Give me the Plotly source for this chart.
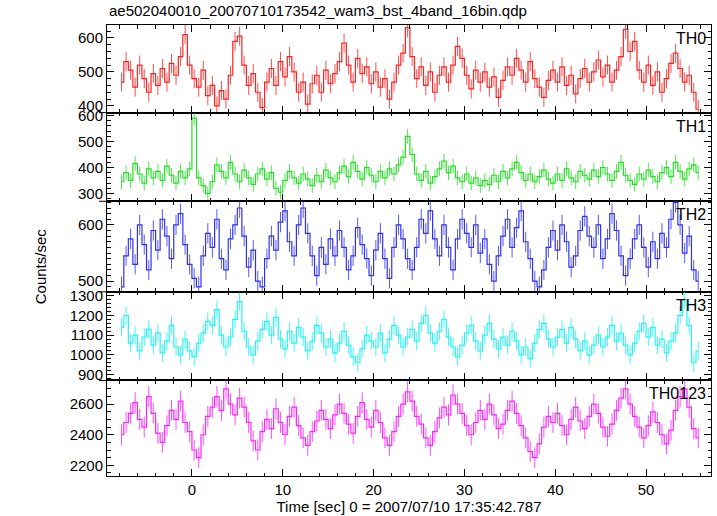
import numpy as np
import plotly.graph_objects as go
from plotly.subplots import make_subplots

TITLE = "ae502040010_20070710173542_wam3_bst_4band_16bin.qdp"
X_TITLE = "Time [sec] 0 = 2007/07/10 17:35:42.787"
Y_TITLE = "Counts/sec"
BANDS = ["TH0", "TH1", "TH2", "TH3", "TH0123"]
T_START = -7.75    # centre of first bin [s]
BIN = 0.5          # bin width [s]

TH0_RATE = [
    470, 530, 505, 455, 520, 480, 440, 495, 460, 510, 470, 525, 490, 545, 610, 520,
    480, 455, 505, 430, 460, 400, 445, 420, 490, 590, 605, 520, 460, 495, 440, 395,
    470, 510, 460, 530, 485, 545, 500, 440, 470, 405, 465, 490, 440, 505, 465, 495,
    530, 585, 520, 470, 540, 495, 515, 465, 500, 455, 480, 420, 470, 520, 555, 630,
    545, 480, 515, 460, 500, 440, 490, 515, 470, 520, 575, 540, 490, 450, 505, 470,
    500, 455, 485, 425, 475, 515, 490, 540, 505, 470, 530, 480, 455, 425, 475, 505,
    470, 515, 460, 490, 435, 480, 510, 470, 500, 535, 485, 520, 470, 505, 545, 625,
    560, 590, 505, 470, 520, 460, 500, 440, 480, 525, 555, 510, 470, 490, 440, 390,
]

TH1_RATE = [
    345, 380, 350, 415, 375, 340, 395, 360, 385, 350, 405, 370, 340, 385, 360, 395,
    590, 360, 330, 300, 345, 410, 385, 360, 420, 375, 345, 390, 360, 335, 375, 395,
    355, 380, 320, 305, 350, 385, 360, 340, 375, 355, 330, 370, 345, 390, 360, 345,
    380, 405, 365, 420, 385, 355, 400, 370, 345, 385, 360, 395, 375, 410, 440, 520,
    450, 375, 350, 385, 340, 365, 395, 425, 380, 405, 360, 345, 375, 340, 360, 330,
    350, 335, 370, 345, 385, 360, 395, 420, 380, 350, 375, 345, 365, 390, 355, 340,
    375, 350, 395, 360, 345, 385, 370, 355, 390, 365, 400, 375, 350, 385, 420, 370,
    350, 335, 375, 355, 390, 365, 345, 380, 400, 365, 420, 385, 355, 395, 410, 380,
]

TH2_RATE = [
    490, 545, 575, 530, 600, 565, 520, 590, 555, 610, 580, 540, 600, 620, 565, 530,
    505, 490, 545, 585, 560, 610, 540, 520, 575, 600, 630, 580, 525, 555, 500, 490,
    540, 580, 555, 605, 625, 570, 545, 600, 630, 585, 545, 510, 560, 530, 575, 545,
    590, 560, 520, 545, 595, 565, 540, 510, 555, 585, 540, 505, 560, 600, 575, 540,
    520, 560, 610, 585, 625, 575, 545, 600, 560, 520, 575, 610, 585, 560, 600, 550,
    575, 530, 500, 545, 580, 610, 560, 595, 625, 570, 540, 500, 490, 520, 560, 590,
    555, 600, 570, 525, 545, 590, 615, 580, 560, 600, 540, 575, 620, 590, 545, 510,
    540, 575, 600, 560, 525, 570, 540, 585, 560, 610, 640, 600, 550, 580, 520, 500,
]

TH3_RATE = [
    1140, 1200, 1060, 1100, 1020, 1090, 1130, 1050, 1110, 1010, 1070, 1150, 1040, 1000, 1080, 1020,
    990, 1060, 1110, 1170, 1150, 1230, 1100, 1040, 1090, 1180, 1270, 1120, 1040, 1000, 1070, 1130,
    1170, 1100, 1190, 1080, 1030, 1120, 1060, 1140, 1090, 1020, 1070, 1150, 1110, 1040, 1080, 1010,
    1060, 1120, 1050, 990, 960, 1030, 1100, 1070, 1040, 1110, 1010, 1080, 1150, 1100, 1040, 1090,
    1130, 1070, 1160, 1200, 1110, 1060, 1120, 1180, 1090, 1040, 990, 1050, 1110, 1150, 1070, 1020,
    1100, 1160, 1080, 1030, 1090, 1050, 1120, 1070, 1000, 1040, 980, 1060, 1130, 1160, 1080, 1040,
    1090, 1130, 1060, 1140, 1080, 1020, 1070, 1000, 1050, 1100, 1040, 1090, 1150, 1070, 1110, 1050,
    1000, 1060, 1120, 1160, 1090, 1140, 1050, 1080, 1010, 1070, 1110, 1200, 1280, 1150, 960, 1020,
]

TH0123_RATE = [
    2400, 2480, 2540, 2610, 2500, 2450, 2650, 2540, 2410, 2350, 2460, 2560, 2500, 2620, 2480, 2420,
    2300, 2250, 2400, 2520, 2580, 2650, 2560, 2700, 2600, 2530, 2640, 2580, 2480, 2360, 2300, 2420,
    2500, 2440, 2570, 2480, 2400, 2520, 2580, 2460, 2380, 2330, 2420, 2490, 2560, 2500, 2440, 2530,
    2600, 2540, 2470, 2410, 2520, 2610, 2500, 2450, 2560, 2480, 2380, 2330, 2420, 2520, 2600, 2680,
    2620, 2520, 2470, 2380, 2330, 2420, 2510, 2580, 2530, 2660, 2600, 2540, 2460, 2400, 2480, 2560,
    2500, 2600, 2530, 2440, 2470, 2560, 2620, 2540, 2460, 2380, 2290, 2250, 2340, 2450, 2520, 2480,
    2540, 2460, 2400, 2500, 2580, 2490, 2440, 2520, 2600, 2540, 2450, 2390, 2470, 2560, 2640, 2700,
    2600, 2520, 2450, 2380, 2460, 2550, 2480, 2400, 2340, 2430, 2560, 2650, 2700, 2580, 2440, 2380,
]

# 1-sigma half-length of error bars per band (counts/sec)
ERR_HALF = [28, 28, 18, 46, 68]

RATES = [TH0_RATE, TH1_RATE, TH2_RATE, TH3_RATE, TH0123_RATE]
COLORS = ["#ff2020", "#22e022", "#3030f0", "#22f4f4", "#ff22ff"]
ERR_COLORS = ["rgba(255,32,32,0.8)", "rgba(34,224,34,0.8)", "rgba(48,48,240,0.8)",
              "rgba(34,244,244,0.85)", "rgba(255,34,255,0.8)"]
Y_RANGES = [[380, 638], [270, 611], [481, 642], [870, 1320], [2130, 2755]]
Y_DTICK = [100, 100, 100, 100, 200]
Y_MINOR = [20, 20, 10, 20, 50]

FONT = "Liberation Sans, Arial, Helvetica, sans-serif"
W, H = 717, 516
TOP, BOTTOM = 25, 483
BOUNDS = [25, 114, 204, 296, 386, 483]

fig = make_subplots(rows=5, cols=1, shared_xaxes=True, vertical_spacing=0)

for i, (rate, col, ecol, err) in enumerate(zip(RATES, COLORS, ERR_COLORS, ERR_HALF)):
    t = T_START + BIN * np.arange(len(rate))
    fig.add_trace(go.Scatter(
        x=t, y=rate, mode="lines", line=dict(color=col, width=1.2, shape="hvh"),
        error_y=dict(type="constant", value=err, color=ecol, thickness=1, width=0),
        showlegend=False, hoverinfo="skip"), row=i + 1, col=1)

ph = BOTTOM - TOP
for i in range(5):
    y0 = (BOTTOM - BOUNDS[i + 1]) / ph
    y1 = (BOTTOM - BOUNDS[i]) / ph
    yname = "yaxis" if i == 0 else f"yaxis{i + 1}"
    xname = "xaxis" if i == 0 else f"xaxis{i + 1}"
    fig.layout[yname].update(
        domain=[y0, y1], range=Y_RANGES[i], dtick=Y_DTICK[i], tick0=0,
        ticks="inside", ticklen=7, tickcolor="black", mirror="ticks",
        showline=True, linecolor="black", linewidth=1, showgrid=False, zeroline=False,
        tickfont=dict(family=FONT, size=15, color="black"),
        minor=dict(ticks="inside", ticklen=3.5, dtick=Y_MINOR[i], tick0=0, tickcolor="black"),
    )
    fig.layout[xname].update(
        range=[-9.35, 57.15], dtick=10, tick0=0,
        ticks="inside", ticklen=7, tickcolor="black", mirror="ticks",
        showline=True, linecolor="black", linewidth=1, showgrid=False, zeroline=False,
        tickfont=dict(family=FONT, size=15, color="black"),
        showticklabels=(i == 4),
        minor=dict(ticks="inside", ticklen=3.5, dtick=2, tick0=0, tickcolor="black"),
    )
    fig.add_annotation(
        text=BANDS[i], xref="paper", yref="paper",
        x=1.0, y=y1 - 3 / ph, xanchor="right", yanchor="top", xshift=-3,
        showarrow=False, font=dict(family=FONT, size=16, color="black"))
    if 0 < i:
        # small cross mark where panels meet on the left frame
        fig.add_shape(type="line", xref="paper", yref="paper", xsizemode="pixel",
                      xanchor=0, x0=-8, x1=8, y0=y1, y1=y1,
                      line=dict(color="black", width=1))

fig.layout.xaxis5.title = dict(text=X_TITLE, font=dict(family=FONT, size=15, color="black"), standoff=2)

fig.add_annotation(text=Y_TITLE, xref="paper", yref="paper", x=-0.0, xshift=-67,
                   y=(BOTTOM - 270) / ph, textangle=-90, showarrow=False,
                   xanchor="center", yanchor="middle",
                   font=dict(family=FONT, size=15, color="black"))

fig.add_annotation(text=TITLE, xref="paper", yref="paper", x=0, y=1, yshift=4,
                   xanchor="left", yanchor="bottom", showarrow=False,
                   font=dict(family=FONT, size=15, color="black"))

fig.update_layout(
    width=W, height=H, autosize=False,
    margin=dict(l=107, r=5, t=TOP, b=H - BOTTOM, pad=0),
    paper_bgcolor="white", plot_bgcolor="white",
    font=dict(family=FONT, color="black"),
)

fig.write_html("out.html", config={"displayModeBar": False},
               post_script="document.body.style.margin='0';document.body.style.overflow='hidden';")
